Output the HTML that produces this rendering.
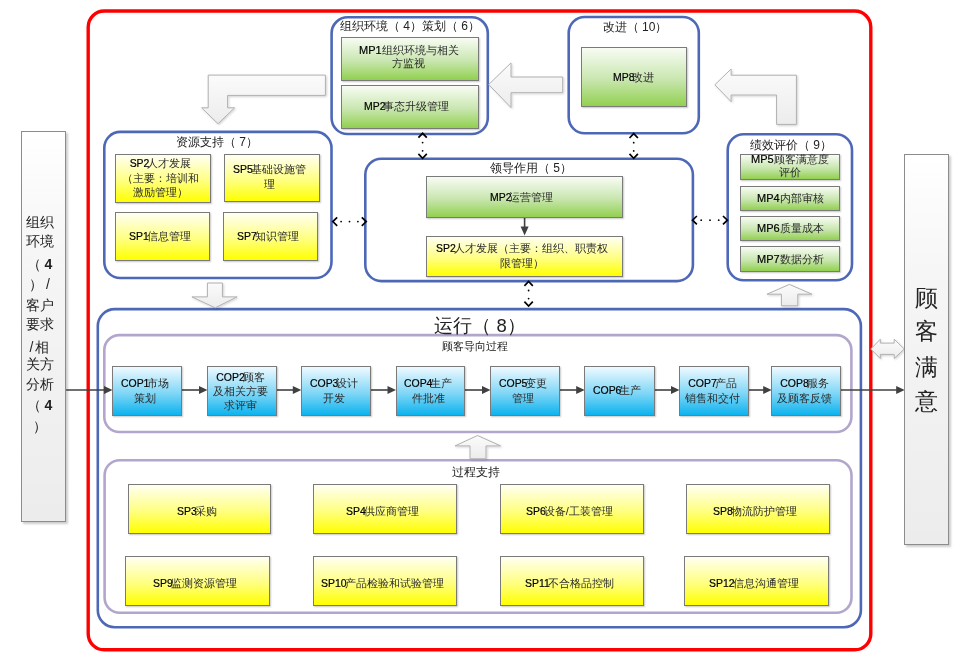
<!DOCTYPE html>
<html><head><meta charset="utf-8"><style>
html,body{text-spacing-trim:space-all;margin:0;padding:0;background:#fff;width:966px;height:665px;overflow:hidden;position:relative;font-family:"Liberation Sans",sans-serif;color:#2b2b2b}
svg{position:absolute;left:0;top:0}
.b{position:absolute;box-sizing:border-box;border:1px solid #7a7a7a;display:flex;align-items:center;justify-content:center;text-align:center;box-shadow:1px 1px 1.5px rgba(0,0,0,0.22)}
.b span{will-change:transform;display:block;white-space:nowrap;transform:translate(var(--dx,-3px),var(--dy,0px))}
.ln{overflow:visible}
.g{background:linear-gradient(#f8fcf4,#c8e6ae 55%,#92d050)}
.y{background:linear-gradient(#fffff2,#ffff80 55%,#ffff00)}
.c{background:linear-gradient(#effaff,#7fd6f6 55%,#0db3ef)}
.l{-webkit-text-stroke:0.2px #000;font-weight:normal;font-size:0.95em;margin-right:-2px;color:#000}
.l2{font-size:1em;margin-right:0}
.lab{will-change:transform;position:absolute;text-align:center;white-space:nowrap;color:#222}
.side{position:absolute;box-sizing:border-box;border:1.2px solid #8c8c8c;background:linear-gradient(#ffffff,#f6f6f6 30%,#ececec);box-shadow:1.5px 1.5px 2px rgba(0,0,0,0.2)}
.st{will-change:transform;position:absolute;text-align:center;white-space:nowrap;color:#222}
</style></head><body>
<svg width="966" height="665" viewBox="0 0 966 665">
<defs>
<linearGradient id="ga" x1="0" y1="0" x2="0" y2="1"><stop offset="0" stop-color="#fbfbfb"/><stop offset="1" stop-color="#ececec"/></linearGradient>
<filter id="sh" x="-20%" y="-20%" width="140%" height="140%"><feDropShadow dx="1" dy="1" stdDeviation="0.8" flood-color="#000" flood-opacity="0.18"/></filter>
</defs>
<rect x="88.20" y="11.00" width="782.60" height="638.80" rx="16" fill="none" stroke="#ff0000" stroke-width="3.4"/>
<rect x="331.60" y="17.30" width="156.20" height="116.70" rx="16" fill="none" stroke="#4e68b8" stroke-width="2.6"/>
<rect x="568.70" y="17.00" width="130.10" height="116.30" rx="16" fill="none" stroke="#4e68b8" stroke-width="2.6"/>
<rect x="104.30" y="131.90" width="227.20" height="146.10" rx="16" fill="none" stroke="#4e68b8" stroke-width="2.6"/>
<rect x="365.30" y="158.70" width="327.60" height="122.40" rx="16" fill="none" stroke="#4e68b8" stroke-width="2.6"/>
<rect x="727.70" y="134.20" width="124.30" height="146.10" rx="16" fill="none" stroke="#4e68b8" stroke-width="2.6"/>
<rect x="97.80" y="309.10" width="763.10" height="318.10" rx="17" fill="none" stroke="#4e68b8" stroke-width="2.6"/>
<rect x="104.30" y="335.10" width="747.10" height="96.90" rx="15" fill="none" stroke="#b2a6cc" stroke-width="2.6"/>
<rect x="104.60" y="460.20" width="746.90" height="152.50" rx="15" fill="none" stroke="#b2a6cc" stroke-width="2.6"/>
<polygon points="325.4,75.1 208.2,75.1 208.2,107.8 201.6,107.8 218.0,123.7 234.6,107.8 227.6,107.8 227.6,95.4 325.4,95.4" fill="url(#ga)" stroke="#b0b0b0" stroke-width="1" filter="url(#sh)"/>
<polygon points="488.7,84.5 511.0,62.9 511.0,77.0 562.7,77.0 562.7,92.7 511.0,92.7 511.0,107.6" fill="url(#ga)" stroke="#b0b0b0" stroke-width="1" filter="url(#sh)"/>
<polygon points="714.8,84.8 731.1,69.0 731.1,75.2 796.4,75.2 796.4,124.4 776.6,124.4 776.6,95.0 731.1,95.0 731.1,101.6" fill="url(#ga)" stroke="#b0b0b0" stroke-width="1" filter="url(#sh)"/>
<polygon points="207.4,283.0 222.4,283.0 222.4,296.9 237.1,296.9 215.2,307.8 191.9,296.9 207.4,296.9" fill="url(#ga)" stroke="#b0b0b0" stroke-width="1" filter="url(#sh)"/>
<polygon points="789.4,284.4 811.9,294.2 797.8,294.2 797.8,305.8 781.4,305.8 781.4,294.2 767.0,294.2" fill="url(#ga)" stroke="#b0b0b0" stroke-width="1" filter="url(#sh)"/>
<polygon points="477.5,435.5 500.6,445.9 486.0,445.9 486.0,458.8 470.0,458.8 470.0,445.9 455.0,445.9" fill="url(#ga)" stroke="#b0b0b0" stroke-width="1" filter="url(#sh)"/>
<polygon points="870.8,349.0 880.3,339.2 880.3,343.1 894.2,343.1 894.2,339.2 904.3,349.0 894.2,358.5 894.2,354.4 880.3,354.4 880.3,358.5" fill="url(#ga)" stroke="#b0b0b0" stroke-width="1" filter="url(#sh)"/>
<line x1="66.2" y1="390" x2="106" y2="390" stroke="#404040" stroke-width="1.6"/>
<polygon points="112.5,390 104,386 104,394" fill="#404040"/>
<line x1="181" y1="390" x2="201" y2="390" stroke="#404040" stroke-width="1.6"/>
<polygon points="207.5,390 199,386 199,394" fill="#404040"/>
<line x1="276" y1="390" x2="294.8" y2="390" stroke="#404040" stroke-width="1.6"/>
<polygon points="301.3,390 292.8,386 292.8,394" fill="#404040"/>
<line x1="370" y1="390" x2="389.5" y2="390" stroke="#404040" stroke-width="1.6"/>
<polygon points="396.0,390 387.5,386 387.5,394" fill="#404040"/>
<line x1="464.4" y1="390" x2="484" y2="390" stroke="#404040" stroke-width="1.6"/>
<polygon points="490.5,390 482,386 482,394" fill="#404040"/>
<line x1="559.4" y1="390" x2="578.2" y2="390" stroke="#404040" stroke-width="1.6"/>
<polygon points="584.7,390 576.2,386 576.2,394" fill="#404040"/>
<line x1="653.5" y1="390" x2="673" y2="390" stroke="#404040" stroke-width="1.6"/>
<polygon points="679.5,390 671,386 671,394" fill="#404040"/>
<line x1="748" y1="390" x2="765.2" y2="390" stroke="#404040" stroke-width="1.6"/>
<polygon points="771.7,390 763.2,386 763.2,394" fill="#404040"/>
<line x1="840.5" y1="390" x2="898.2" y2="390" stroke="#404040" stroke-width="1.6"/>
<polygon points="904.7,390 896.2,386 896.2,394" fill="#404040"/>
<line x1="524.6" y1="217" x2="524.6" y2="229" stroke="#404040" stroke-width="1.6"/><polygon points="524.6,235.5 520.6,226.5 528.6,226.5" fill="#404040"/>
<polyline points="418.40000000000003,137.70000000000002 422.6,133.3 426.8,137.70000000000002" fill="none" stroke="#000" stroke-width="1.7"/>
<polyline points="418.40000000000003,153.9 422.6,158.3 426.8,153.9" fill="none" stroke="#000" stroke-width="1.7"/>
<circle cx="422.6" cy="142.6" r="0.9" fill="#000"/>
<circle cx="422.6" cy="150.8" r="0.9" fill="#000"/>
<polyline points="629.5,138.0 633.7,133.6 637.9000000000001,138.0" fill="none" stroke="#000" stroke-width="1.7"/>
<polyline points="629.5,153.9 633.7,158.3 637.9000000000001,153.9" fill="none" stroke="#000" stroke-width="1.7"/>
<circle cx="633.7" cy="142.7" r="0.9" fill="#000"/>
<circle cx="633.7" cy="150.9" r="0.9" fill="#000"/>
<polyline points="524.4,285.79999999999995 528.6,281.4 532.8000000000001,285.79999999999995" fill="none" stroke="#000" stroke-width="1.7"/>
<polyline points="524.4,301.6 528.6,306 532.8000000000001,301.6" fill="none" stroke="#000" stroke-width="1.7"/>
<circle cx="528.6" cy="290.5" r="0.9" fill="#000"/>
<circle cx="528.6" cy="298.6" r="0.9" fill="#000"/>
<polyline points="337.2,217.4 332.8,221.6 337.2,225.79999999999998" fill="none" stroke="#000" stroke-width="1.7"/>
<polyline points="361.8,217.4 366.2,221.6 361.8,225.79999999999998" fill="none" stroke="#000" stroke-width="1.7"/>
<circle cx="341.1" cy="221.6" r="0.9" fill="#000"/>
<circle cx="349.5" cy="221.6" r="0.9" fill="#000"/>
<circle cx="357.9" cy="221.6" r="0.9" fill="#000"/>
<polyline points="696.9,216.0 692.5,220.2 696.9,224.39999999999998" fill="none" stroke="#000" stroke-width="1.7"/>
<polyline points="723.0,216.0 727.4,220.2 723.0,224.39999999999998" fill="none" stroke="#000" stroke-width="1.7"/>
<circle cx="701.2" cy="220.2" r="0.9" fill="#000"/>
<circle cx="710.0" cy="220.2" r="0.9" fill="#000"/>
<circle cx="718.7" cy="220.2" r="0.9" fill="#000"/>

</svg>
<div class="side" style="left:21.3px;top:130.5px;width:44.9px;height:391.9px"></div>
<div class="side" style="left:904.2px;top:153.7px;width:45.1px;height:391.3px"></div>
<div class="st" style="left:16.5px;top:212.4px;width:45px;height:20px;line-height:20px;font-size:14px;">组织</div>
<div class="st" style="left:16.5px;top:230.9px;width:45px;height:20px;line-height:20px;font-size:14px;">环境</div>
<div class="st" style="left:16.5px;top:253.9px;width:45px;height:20px;line-height:20px;font-size:14px;">（<span style='margin-left:4px;font-weight:bold'>4</span></div>
<div class="st" style="left:16.5px;top:274.2px;width:45px;height:20px;line-height:20px;font-size:14px;">）<span style='margin-left:3px'>/</span></div>
<div class="st" style="left:16.5px;top:294.5px;width:45px;height:20px;line-height:20px;font-size:14px;">客户</div>
<div class="st" style="left:16.5px;top:313.7px;width:45px;height:20px;line-height:20px;font-size:14px;">要求</div>
<div class="st" style="left:16.5px;top:336.7px;width:45px;height:20px;line-height:20px;font-size:14px;"><span style='margin-right:2px'>/</span>相</div>
<div class="st" style="left:16.5px;top:354.3px;width:45px;height:20px;line-height:20px;font-size:14px;">关方</div>
<div class="st" style="left:16.5px;top:374.1px;width:45px;height:20px;line-height:20px;font-size:14px;">分析</div>
<div class="st" style="left:16.5px;top:394.8px;width:45px;height:20px;line-height:20px;font-size:14px;">（<span style='margin-left:4px;font-weight:bold'>4</span></div>
<div class="st" style="left:16.5px;top:415.7px;width:45px;height:20px;line-height:20px;font-size:14px;">）</div>
<div class="st" style="left:904px;top:283.2px;width:45px;height:30px;line-height:30px;font-size:23px;">顾</div>
<div class="st" style="left:904px;top:316.0px;width:45px;height:30px;line-height:30px;font-size:23px;">客</div>
<div class="st" style="left:904px;top:352.0px;width:45px;height:30px;line-height:30px;font-size:23px;">满</div>
<div class="st" style="left:904px;top:386.0px;width:45px;height:30px;line-height:30px;font-size:23px;">意</div>
<div class="lab" style="left:209.8px;top:14.3px;width:400px;height:24px;line-height:24px;font-size:12px;">组织环境（ 4）策划（ 6）</div>
<div class="lab" style="left:434.5px;top:14.9px;width:400px;height:24px;line-height:24px;font-size:12px;">改进（ 10）</div>
<div class="lab" style="left:17.0px;top:130.4px;width:400px;height:24px;line-height:24px;font-size:12px;">资源支持（ 7）</div>
<div class="lab" style="left:331.0px;top:155.5px;width:400px;height:24px;line-height:24px;font-size:12px;">领导作用（ 5）</div>
<div class="lab" style="left:591.0px;top:133.4px;width:400px;height:24px;line-height:24px;font-size:12px;">绩效评价（ 9）</div>
<div class="lab" style="left:280.0px;top:307.2px;width:400px;height:37.0px;line-height:37.0px;font-size:18.5px;">运行（ 8）</div>
<div class="lab" style="left:274.5px;top:335.2px;width:400px;height:22.4px;line-height:22.4px;font-size:11.2px;">顾客导向过程</div>
<div class="lab" style="left:276.3px;top:460.8px;width:400px;height:23.0px;line-height:23.0px;font-size:11.5px;">过程支持</div>
<div class="b g" style="left:341px;top:37px;width:138px;height:44px;font-size:11px;--dx:-1px"><span style="--dy:-2px"><div class="ln" style="height:13px;line-height:13px"><b class="l l2">MP1</b>组织环境与相关</div><div class="ln" style="height:13px;line-height:13px">方监视</div></span></div>
<div class="b g" style="left:341px;top:85px;width:138px;height:44px;font-size:11px;"><span style="--dy:-1.5px"><div class="ln" style="height:14.5px;line-height:14.5px"><b class="l">MP2</b>事态升级管理</div></span></div>
<div class="b g" style="left:581px;top:47px;width:106px;height:60px;font-size:11px;--dx:0px"><span style="--dy:0px"><div class="ln" style="height:14.5px;line-height:14.5px"><b class="l">MP8</b>改进</div></span></div>
<div class="b g" style="left:426px;top:176px;width:197px;height:42px;font-size:11px;"><span style="--dy:0px"><div class="ln" style="height:14.5px;line-height:14.5px"><b class="l">MP2</b>运营管理</div></span></div>
<div class="b g" style="left:740px;top:154px;width:100px;height:26px;font-size:11px;--dx:0px"><span style="--dy:-0.8px"><div class="ln" style="height:13px;line-height:13px"><b class="l l2">MP5</b>顾客满意度</div><div class="ln" style="height:13px;line-height:13px">评价</div></span></div>
<div class="b g" style="left:740px;top:186px;width:100px;height:25px;font-size:11px;--dx:0px"><span style="--dy:0px"><div class="ln" style="height:14.5px;line-height:14.5px"><b class="l l2">MP4</b>内部审核</div></span></div>
<div class="b g" style="left:740px;top:216px;width:100px;height:25px;font-size:11px;--dx:0px"><span style="--dy:0px"><div class="ln" style="height:14.5px;line-height:14.5px"><b class="l l2">MP6</b>质量成本</div></span></div>
<div class="b g" style="left:740px;top:246px;width:100px;height:26px;font-size:11px;--dx:0px"><span style="--dy:0px"><div class="ln" style="height:14.5px;line-height:14.5px"><b class="l l2">MP7</b>数据分析</div></span></div>
<div class="b y" style="left:115px;top:154px;width:96px;height:49px;font-size:11px;"><span style="--dy:-1.2px"><div class="ln" style="height:14.5px;line-height:14.5px"><b class="l">SP2</b>人才发展</div><div class="ln" style="height:14.5px;line-height:14.5px">（主要：培训和</div><div class="ln" style="height:14.5px;line-height:14.5px">激励管理）</div></span></div>
<div class="b y" style="left:224px;top:154px;width:96px;height:48px;font-size:11px;"><span style="--dy:-1.9px"><div class="ln" style="height:14.5px;line-height:14.5px"><b class="l">SP5</b>基础设施管</div><div class="ln" style="height:14.5px;line-height:14.5px">理</div></span></div>
<div class="b y" style="left:115px;top:212px;width:95px;height:49px;font-size:11px;"><span style="--dy:0px"><div class="ln" style="height:14.5px;line-height:14.5px"><b class="l">SP1</b>信息管理</div></span></div>
<div class="b y" style="left:223px;top:212px;width:95px;height:49px;font-size:11px;"><span style="--dy:0px"><div class="ln" style="height:14.5px;line-height:14.5px"><b class="l">SP7</b>知识管理</div></span></div>
<div class="b y" style="left:426px;top:236px;width:197px;height:41px;font-size:11px;"><span style="--dy:-1.1px"><div class="ln" style="height:14.5px;line-height:14.5px"><b class="l">SP2</b>人才发展（主要：组织、职责权</div><div class="ln" style="height:14.5px;line-height:14.5px">限管理）</div></span></div>
<div class="b y" style="left:128px;top:484px;width:143px;height:50px;font-size:11px;"><span style="--dy:2px"><div class="ln" style="height:14.5px;line-height:14.5px"><b class="l">SP3</b>采购</div></span></div>
<div class="b y" style="left:313px;top:484px;width:144px;height:50px;font-size:11px;"><span style="--dy:2px"><div class="ln" style="height:14.5px;line-height:14.5px"><b class="l">SP4</b>供应商管理</div></span></div>
<div class="b y" style="left:500px;top:484px;width:144px;height:50px;font-size:11px;"><span style="--dy:2px"><div class="ln" style="height:14.5px;line-height:14.5px"><b class="l">SP6</b>设备/工装管理</div></span></div>
<div class="b y" style="left:686px;top:484px;width:144px;height:50px;font-size:11px;"><span style="--dy:2px"><div class="ln" style="height:14.5px;line-height:14.5px"><b class="l">SP8</b>物流防护管理</div></span></div>
<div class="b y" style="left:125px;top:556px;width:145px;height:50px;font-size:11px;"><span style="--dy:2px"><div class="ln" style="height:14.5px;line-height:14.5px"><b class="l">SP9</b>监测资源管理</div></span></div>
<div class="b y" style="left:313px;top:556px;width:144px;height:50px;font-size:11px;"><span style="--dy:2px"><div class="ln" style="height:14.5px;line-height:14.5px"><b class="l">SP10</b>产品检验和试验管理</div></span></div>
<div class="b y" style="left:500px;top:556px;width:144px;height:50px;font-size:11px;"><span style="--dy:2px"><div class="ln" style="height:14.5px;line-height:14.5px"><b class="l">SP11</b>不合格品控制</div></span></div>
<div class="b y" style="left:684px;top:556px;width:145px;height:50px;font-size:11px;"><span style="--dy:2px"><div class="ln" style="height:14.5px;line-height:14.5px"><b class="l">SP12</b>信息沟通管理</div></span></div>
<div class="b c" style="left:112px;top:366px;width:70px;height:50px;font-size:11px;--dx:-2px"><span style="--dy:0.3px"><div class="ln" style="height:15.3px;line-height:15.3px"><b class="l">COP1</b>市场</div><div class="ln" style="height:15.3px;line-height:15.3px">策划</div></span></div>
<div class="b c" style="left:207px;top:366px;width:70px;height:50px;font-size:11px;--dx:-2px"><span style="--dy:0px"><div class="ln" style="height:14px;line-height:14px"><b class="l">COP2</b>顾客</div><div class="ln" style="height:14px;line-height:14px">及相关方要</div><div class="ln" style="height:14px;line-height:14px">求评审</div></span></div>
<div class="b c" style="left:301px;top:366px;width:70px;height:50px;font-size:11px;--dx:-2px"><span style="--dy:0.3px"><div class="ln" style="height:15.3px;line-height:15.3px"><b class="l">COP3</b>设计</div><div class="ln" style="height:15.3px;line-height:15.3px">开发</div></span></div>
<div class="b c" style="left:396px;top:366px;width:69px;height:50px;font-size:11px;--dx:-2px"><span style="--dy:0.3px"><div class="ln" style="height:15.3px;line-height:15.3px"><b class="l">COP4</b>生产</div><div class="ln" style="height:15.3px;line-height:15.3px">件批准</div></span></div>
<div class="b c" style="left:490px;top:366px;width:70px;height:50px;font-size:11px;--dx:-2px"><span style="--dy:0.3px"><div class="ln" style="height:15.3px;line-height:15.3px"><b class="l">COP5</b>变更</div><div class="ln" style="height:15.3px;line-height:15.3px">管理</div></span></div>
<div class="b c" style="left:584px;top:366px;width:71px;height:50px;font-size:11px;--dx:-2px"><span style="--dy:0.3px"><div class="ln" style="height:15.3px;line-height:15.3px"><b class="l">COP6</b>生产</div></span></div>
<div class="b c" style="left:679px;top:366px;width:70px;height:50px;font-size:11px;--dx:-2px"><span style="--dy:0.3px"><div class="ln" style="height:15.3px;line-height:15.3px"><b class="l">COP7</b>产品</div><div class="ln" style="height:15.3px;line-height:15.3px">销售和交付</div></span></div>
<div class="b c" style="left:771px;top:366px;width:70px;height:50px;font-size:11px;--dx:-2px"><span style="--dy:0.3px"><div class="ln" style="height:15.3px;line-height:15.3px"><b class="l">COP8</b>服务</div><div class="ln" style="height:15.3px;line-height:15.3px">及顾客反馈</div></span></div>

</body></html>
